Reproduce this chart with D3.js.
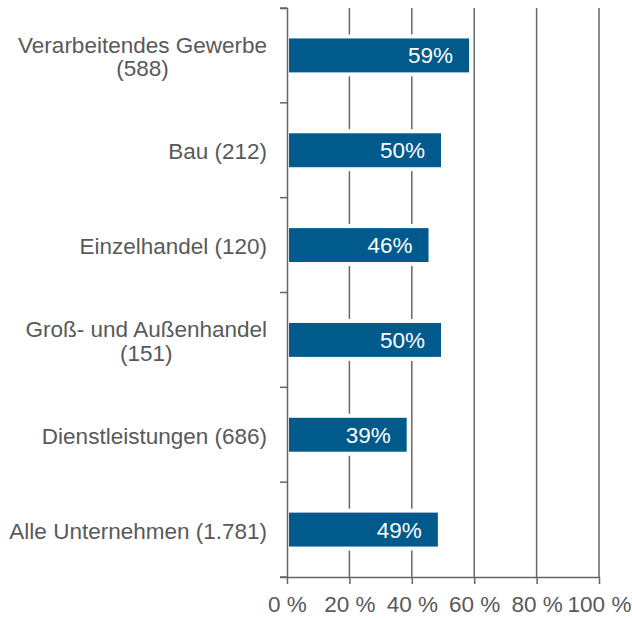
<!DOCTYPE html>
<html><head><meta charset="utf-8">
<script src="https://cdn.jsdelivr.net/npm/d3@7"></script>
<style>body{margin:0;background:#fff}svg text{font-family:"Liberation Sans",Arial,sans-serif}</style>
</head><body><svg id="c" width="632" height="619"></svg>
<script>
const categories = [["Verarbeitendes Gewerbe","(588)"],["Bau (212)"],["Einzelhandel (120)"],["Groß- und Außenhandel","(151)"],["Dienstleistungen (686)"],["Alle Unternehmen (1.781)"]];
const values = [59, 50, 46, 50, 39, 49];
const xTicks = [0, 20, 40, 60, 80, 100];

const svg = d3.select("#c");
const x = d3.scaleLinear().domain([0, 100]).range([287, 599]);
const y = d3.scaleBand().domain(d3.range(categories.length)).range([8, 577]).paddingInner(0.6).paddingOuter(0.3);
const yb = d3.scaleBand().domain(d3.range(categories.length)).range([8, 577]);
const grid = "#63666a", txt = "#595959", blue = "#005a8c";
const fs = 22.5;

// gridlines
svg.append("g").selectAll("line").data(xTicks.filter(d => d > 0)).join("line")
  .attr("x1", d => x(d)).attr("x2", d => x(d)).attr("y1", 8).attr("y2", 577)
  .attr("stroke", grid).attr("stroke-width", 1.5);

// bars
svg.append("g").selectAll("rect").data(values).join("rect")
  .attr("x", x(0)).attr("width", d => x(d) - x(0))
  .attr("y", (d, i) => y(i)).attr("height", y.bandwidth())
  .attr("fill", blue).attr("stroke", "#fff").attr("stroke-width", 4);

// value labels
svg.append("g").selectAll("text").data(values).join("text")
  .attr("x", d => x(d) - 18).attr("y", (d, i) => y(i) + y.bandwidth() / 2 + 8)
  .attr("text-anchor", "end").attr("fill", "#fff").attr("font-size", fs)
  .text(d => d + "%");

// y axis
const ya = svg.append("g").attr("transform", `translate(${x(0)},0)`)
  .call(d3.axisLeft(yb).tickValues(d3.range(0, categories.length + 1)).tickSize(7).tickFormat(""));
// custom ticks at band boundaries
ya.selectAll(".tick").remove();
ya.selectAll("line.b").data(d3.range(categories.length + 1)).join("line").attr("class", "b")
  .attr("x1", -7).attr("x2", 0)
  .attr("y1", i => i < categories.length ? yb(i) : 577).attr("y2", i => i < categories.length ? yb(i) : 577)
  .attr("stroke", grid).attr("stroke-width", 1.5);
ya.select(".domain").attr("stroke", grid).attr("stroke-width", 1.5);

// category labels
const lab = svg.append("g");
categories.forEach((lines, i) => {
  const cy = yb(i) + yb.bandwidth() / 2;
  const lh = 23.4;
  const t = lab.append("text").attr("fill", txt).attr("font-size", fs).attr("text-anchor", "middle");
  // compute width of widest line for right alignment
  const tmp = lab.append("text").attr("font-size", fs).text(lines[0]);
  const w = tmp.node().getComputedTextLength(); tmp.remove();
  const cx = 267 - w / 2;
  lines.forEach((s, j) => {
    t.append("tspan").attr("x", cx).attr("y", cy + 9 + (j - (lines.length - 1) / 2) * lh).text(s);
  });
});

// x axis
const xa = svg.append("g").attr("transform", "translate(0,577)")
  .call(d3.axisBottom(x).tickValues(xTicks).tickSize(7).tickSizeOuter(0).tickFormat(d => d + " %"));
xa.select(".domain").attr("stroke", grid).attr("stroke-width", 1.5);
xa.selectAll(".tick line").attr("stroke", grid).attr("stroke-width", 1.5);
xa.selectAll(".tick text").attr("fill", txt).attr("font-size", fs).attr("dy", 0).attr("y", 35)
  .attr("font-family", "Liberation Sans, Arial, sans-serif");
</script></body></html>
